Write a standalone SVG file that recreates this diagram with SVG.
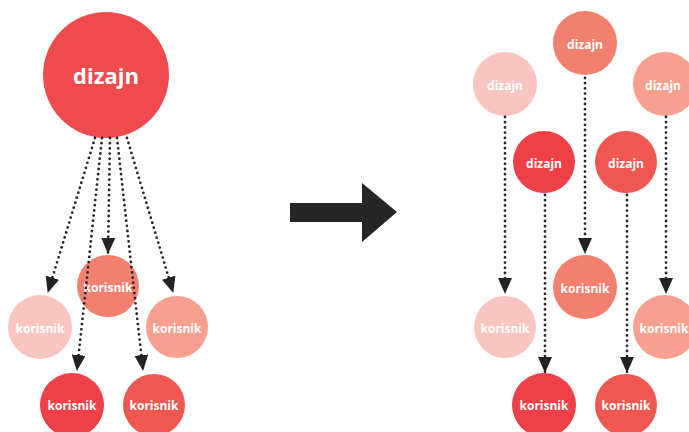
<svg xmlns="http://www.w3.org/2000/svg" width="689" height="432" viewBox="0 0 689 432">
<defs>
<marker id="ah" markerUnits="userSpaceOnUse" markerWidth="16" markerHeight="14" viewBox="0 0 16 14" refX="15" refY="7" orient="auto">
<path d="M0,0 L16,7 L0,14 Z" fill="#232323"/>
</marker>
<style>
.c1{fill:#f9c5c0}.c2{fill:#f2806f}.c3{fill:#f7a08f}.c4{fill:#ee4147}.c5{fill:#ef5751}.c0{fill:#ef4a4e}
text{font-family:"Open Sans","DejaVu Sans",sans-serif;font-weight:bold;fill:#ffffff;text-anchor:middle;dominant-baseline:central}
.s{font-size:12px}.big{font-size:22px}
.ln{stroke:#262626;stroke-width:2.8;stroke-linecap:round;stroke-dasharray:0 5.2;fill:none}
</style>
</defs>
<rect width="689" height="432" fill="#ffffff"/>
<g id="left-dizajn"><circle class="c0" cx="106" cy="75" r="63"/><text class="big" x="106" y="75">dizajn</text></g>
<g id="l-k-mid"><circle class="c2" cx="108" cy="286" r="31"/><text class="s" x="108" y="287">korisnik</text></g>
<g id="l-k-left"><circle class="c1" cx="40" cy="327" r="32"/><text class="s" x="40" y="328">korisnik</text></g>
<g id="l-k-right"><circle class="c3" cx="177" cy="327" r="31"/><text class="s" x="177" y="328">korisnik</text></g>
<g id="l-k-bl"><circle class="c4" cx="72" cy="405" r="32"/><text class="s" x="72" y="405">korisnik</text></g>
<g id="l-k-br"><circle class="c5" cx="154" cy="405" r="31"/><text class="s" x="154" y="405">korisnik</text></g>

<g id="big-arrow"><path d="M290,203 H362 V183 L397,212 L362,242 V222 H290 Z" fill="#262626"/></g>

<g id="r-d-top"><circle class="c2" cx="585" cy="43" r="32"/><text class="s" x="585" y="44">dizajn</text></g>
<g id="r-d-left"><circle class="c1" cx="505" cy="84" r="32"/><text class="s" x="505" y="85">dizajn</text></g>
<g id="r-d-right"><circle class="c3" cx="665" cy="84" r="32"/><text class="s" x="663" y="85">dizajn</text></g>
<g id="r-d-ml"><circle class="c4" cx="544" cy="162" r="31"/><text class="s" x="544" y="163">dizajn</text></g>
<g id="r-d-mr"><circle class="c5" cx="626" cy="162" r="31"/><text class="s" x="626" y="163">dizajn</text></g>
<g id="r-k-mid"><circle class="c2" cx="585" cy="287" r="32"/><text class="s" x="585" y="288">korisnik</text></g>
<g id="r-k-left"><circle class="c1" cx="505" cy="327" r="31"/><text class="s" x="505" y="328">korisnik</text></g>
<g id="r-k-right"><circle class="c3" cx="665" cy="327" r="32"/><text class="s" x="664" y="328">korisnik</text></g>
<g id="r-k-bl"><circle class="c4" cx="544" cy="405" r="32"/><text class="s" x="544" y="405">korisnik</text></g>
<g id="r-k-br"><circle class="c5" cx="626" cy="405" r="31"/><text class="s" x="626" y="405">korisnik</text></g>

<g id="connectors">
<line class="ln" x1="95" y1="138" x2="48" y2="292" marker-end="url(#ah)"/>
<line class="ln" x1="102" y1="138" x2="77" y2="370" marker-end="url(#ah)"/>
<line class="ln" x1="110" y1="138" x2="108" y2="253" marker-end="url(#ah)"/>
<line class="ln" x1="117" y1="138" x2="143" y2="370" marker-end="url(#ah)"/>
<line class="ln" x1="127" y1="138" x2="173" y2="292" marker-end="url(#ah)"/>
<line class="ln" x1="505" y1="117" x2="505" y2="293" marker-end="url(#ah)"/>
<line class="ln" x1="585" y1="78" x2="585" y2="253" marker-end="url(#ah)"/>
<line class="ln" x1="666" y1="117" x2="666" y2="293" marker-end="url(#ah)"/>
<line class="ln" x1="545" y1="195" x2="545" y2="372" marker-end="url(#ah)"/>
<line class="ln" x1="627" y1="195" x2="627" y2="372" marker-end="url(#ah)"/>
</g>
</svg>
